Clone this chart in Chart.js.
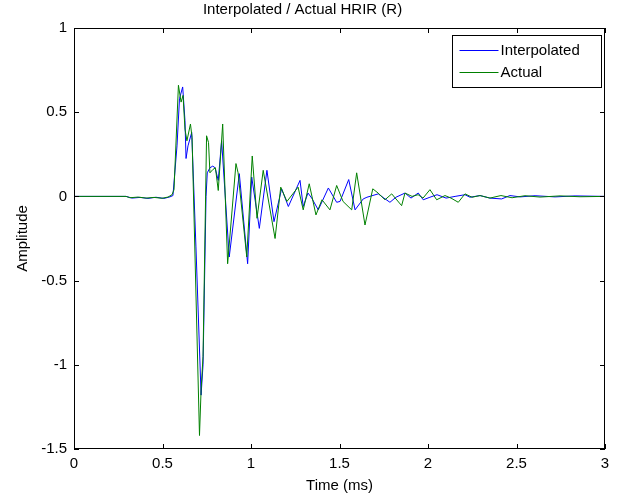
<!DOCTYPE html>
<html>
<head>
<meta charset="utf-8">
<script src="https://cdn.jsdelivr.net/npm/chart.js@4/dist/chart.umd.min.js"></script>
<style>
  html, body { margin: 0; padding: 0; background: #fff; }
  #wrap { width: 618px; height: 499px; }
</style>
</head>
<body>
<div id="wrap"><canvas id="hrir"></canvas></div>
<script>
// time axis (ms) and amplitudes
const actualTime = [0, 0.294, 0.316, 0.362, 0.407, 0.452, 0.497, 0.531, 0.554, 0.565,
  0.590, 0.605, 0.616, 0.627, 0.638, 0.658, 0.667, 0.709, 0.718, 0.729,
  0.749, 0.760, 0.768, 0.785, 0.799, 0.815, 0.840, 0.868, 0.915, 0.927,
  0.976, 1.007, 1.034, 1.069, 1.136, 1.168, 1.203, 1.266, 1.295, 1.329,
  1.367, 1.401, 1.446, 1.484, 1.520, 1.569, 1.597, 1.644, 1.688, 1.718,
  1.757, 1.795, 1.851, 1.870, 1.910, 1.944, 1.972, 2.011, 2.049, 2.096,
  2.130, 2.171, 2.209, 2.249, 2.294, 2.350, 2.412, 2.475, 2.548, 2.633,
  2.746, 2.859, 3.0];
const actualAmp = [0, 0, -0.008, -0.004, -0.010, -0.006, -0.011, -0.004, 0.010, 0.040,
  0.66, 0.56, 0.60, 0.40, 0.33, 0.43, 0.35, -1.42, -1.15, -0.95,
  0.36, 0.32, 0.14, 0.16, 0.17, 0.035, 0.43, -0.40, 0.195, 0.14,
  -0.36, 0.24, -0.13, 0.155, -0.25, 0.055, -0.03, 0.055, -0.08, 0.075,
  -0.11, -0.02, -0.08, 0.065, -0.03, -0.08, 0.14, -0.17, 0.045, 0.02,
  -0.02, 0.015, -0.055, 0.02, 0.0, 0.01, -0.01, 0.04, -0.02, 0.005,
  -0.01, -0.035, 0.015, -0.005, 0.005, -0.01, 0.005, -0.008, 0.004, -0.004,
  0.003, -0.002, 0];

const interpTime = [0, 0.294, 0.328, 0.373, 0.418, 0.463, 0.508, 0.542, 0.559, 0.582,
  0.596, 0.614, 0.627, 0.633, 0.644, 0.665, 0.689, 0.718, 0.729, 0.746,
  0.753, 0.768, 0.784, 0.797, 0.815, 0.834, 0.877, 0.934, 0.981, 1.004,
  1.047, 1.090, 1.130, 1.173, 1.211, 1.277, 1.295, 1.322, 1.343, 1.380,
  1.437, 1.484, 1.503, 1.552, 1.588, 1.634, 1.655, 1.719, 1.751, 1.785,
  1.819, 1.870, 1.904, 1.945, 1.973, 2.011, 2.051, 2.102, 2.153, 2.209,
  2.237, 2.294, 2.350, 2.416, 2.463, 2.520, 2.605, 2.718, 2.831, 3.0];
const interpAmp = [0, 0, -0.010, -0.006, -0.012, -0.005, -0.012, -0.003, 0.005, 0.30,
  0.58, 0.65, 0.45, 0.225, 0.30, 0.38, -0.30, -1.18, -1.00, 0.0,
  0.14, 0.17, 0.18, 0.17, 0.095, 0.33, -0.36, 0.135, -0.40, 0.115,
  -0.19, 0.155, -0.15, 0.045, -0.06, 0.095, -0.06, 0.02, -0.01, -0.08,
  0.05, -0.035, -0.03, 0.10, -0.08, -0.015, -0.005, 0.015, -0.01, -0.035,
  -0.005, 0.02, -0.01, 0.02, -0.02, -0.005, 0.01, -0.01, 0.0, 0.01,
  -0.005, 0.005, -0.01, -0.015, 0.005, -0.003, 0.004, -0.003, 0.003, 0];

const xTicks = [0, 0.5, 1, 1.5, 2, 2.5, 3];
const yTicks = [-1.5, -1, -0.5, 0, 0.5, 1];

const FONT = 'Liberation Sans, Arial, sans-serif';

const toPoints = (xs, ys) => xs.map((x, i) => ({ x: x, y: ys[i] }));

// MATLAB style box with inward ticks on all four sides
const boxPlugin = {
  id: 'box',
  afterDraw(chart) {
    const { ctx, chartArea: a, scales } = chart;
    ctx.save();
    ctx.strokeStyle = '#000';
    ctx.lineWidth = 1;
    ctx.strokeRect(Math.round(a.left) + 0.5, Math.round(a.top) + 0.5,
      Math.round(a.right - a.left) - 1, Math.round(a.bottom - a.top) - 1);
    const len = 5;
    ctx.beginPath();
    xTicks.forEach(v => {
      const px = Math.round(scales.x.getPixelForValue(v)) + 0.5;
      ctx.moveTo(px, a.bottom); ctx.lineTo(px, a.bottom - len);
      ctx.moveTo(px, a.top); ctx.lineTo(px, a.top + len);
    });
    yTicks.forEach(v => {
      const py = Math.round(scales.y.getPixelForValue(v)) + 0.5;
      ctx.moveTo(a.left, py); ctx.lineTo(a.left + len, py);
      ctx.moveTo(a.right, py); ctx.lineTo(a.right - len, py);
    });
    ctx.stroke();

    // legend box, top right inside the axes
    const items = chart.data.datasets.slice().sort((p, q) => p.legendIndex - q.legendIndex);
    const bw = 149, bh = 52;
    const bx = Math.round(a.right) - bw - 3.5, by = Math.round(a.top) + 7.5;
    ctx.fillStyle = '#fff';
    ctx.fillRect(bx, by, bw, bh);
    ctx.strokeRect(bx, by, bw, bh);
    ctx.font = '15px ' + FONT;
    ctx.textBaseline = 'middle';
    items.forEach((d, i) => {
      const y = by + 15 + i * 22;
      ctx.strokeStyle = d.borderColor;
      ctx.beginPath();
      ctx.moveTo(bx + 7, y); ctx.lineTo(bx + 46, y);
      ctx.stroke();
      ctx.fillStyle = '#000';
      ctx.fillText(d.label, bx + 48, y);
    });
    ctx.restore();
  }
};

new Chart(document.getElementById('hrir'), {
  type: 'line',
  data: {
    datasets: [
      { label: 'Actual', data: toPoints(actualTime, actualAmp), borderColor: '#008000',
        borderWidth: 1, pointRadius: 0, tension: 0, order: 0, legendIndex: 1 },
      { label: 'Interpolated', data: toPoints(interpTime, interpAmp), borderColor: '#0000ff',
        borderWidth: 1, pointRadius: 0, tension: 0, order: 1, legendIndex: 0 }
    ]
  },
  options: {
    responsive: true,
    maintainAspectRatio: false,
    animation: false,
    layout: { padding: { top: 0, right: 13, left: 0, bottom: 0 } },
    plugins: {
      legend: { display: false },
      tooltip: { enabled: false },
      title: {
        display: true, text: 'Interpolated / Actual HRIR (R)', color: '#000',
        font: { family: FONT, size: 15, weight: 'normal' }, padding: { top: 1, bottom: 9 }
      }
    },
    scales: {
      x: {
        type: 'linear', min: 0, max: 3,
        afterFit: s => { s.height = 50; },
        afterBuildTicks: s => { s.ticks = xTicks.map(v => ({ value: v })); },
        grid: { display: false, drawTicks: false },
        border: { display: false },
        ticks: { color: '#000', padding: 6, maxRotation: 0, font: { family: FONT, size: 15 },
          callback: v => String(v) },
        title: { display: true, text: 'Time (ms)', color: '#000', padding: { top: 2 },
          font: { family: FONT, size: 15 } }
      },
      y: {
        min: -1.5, max: 1,
        afterFit: s => { s.width = 74; },
        afterBuildTicks: s => { s.ticks = yTicks.map(v => ({ value: v })); },
        grid: { display: false, drawTicks: false },
        border: { display: false },
        ticks: { color: '#000', padding: 7, font: { family: FONT, size: 15 },
          callback: v => String(v) },
        title: { display: true, text: 'Amplitude', color: '#000', padding: { top: 14, bottom: 0 },
          font: { family: FONT, size: 15 } }
      }
    }
  },
  plugins: [boxPlugin]
});
</script>
</body>
</html>
